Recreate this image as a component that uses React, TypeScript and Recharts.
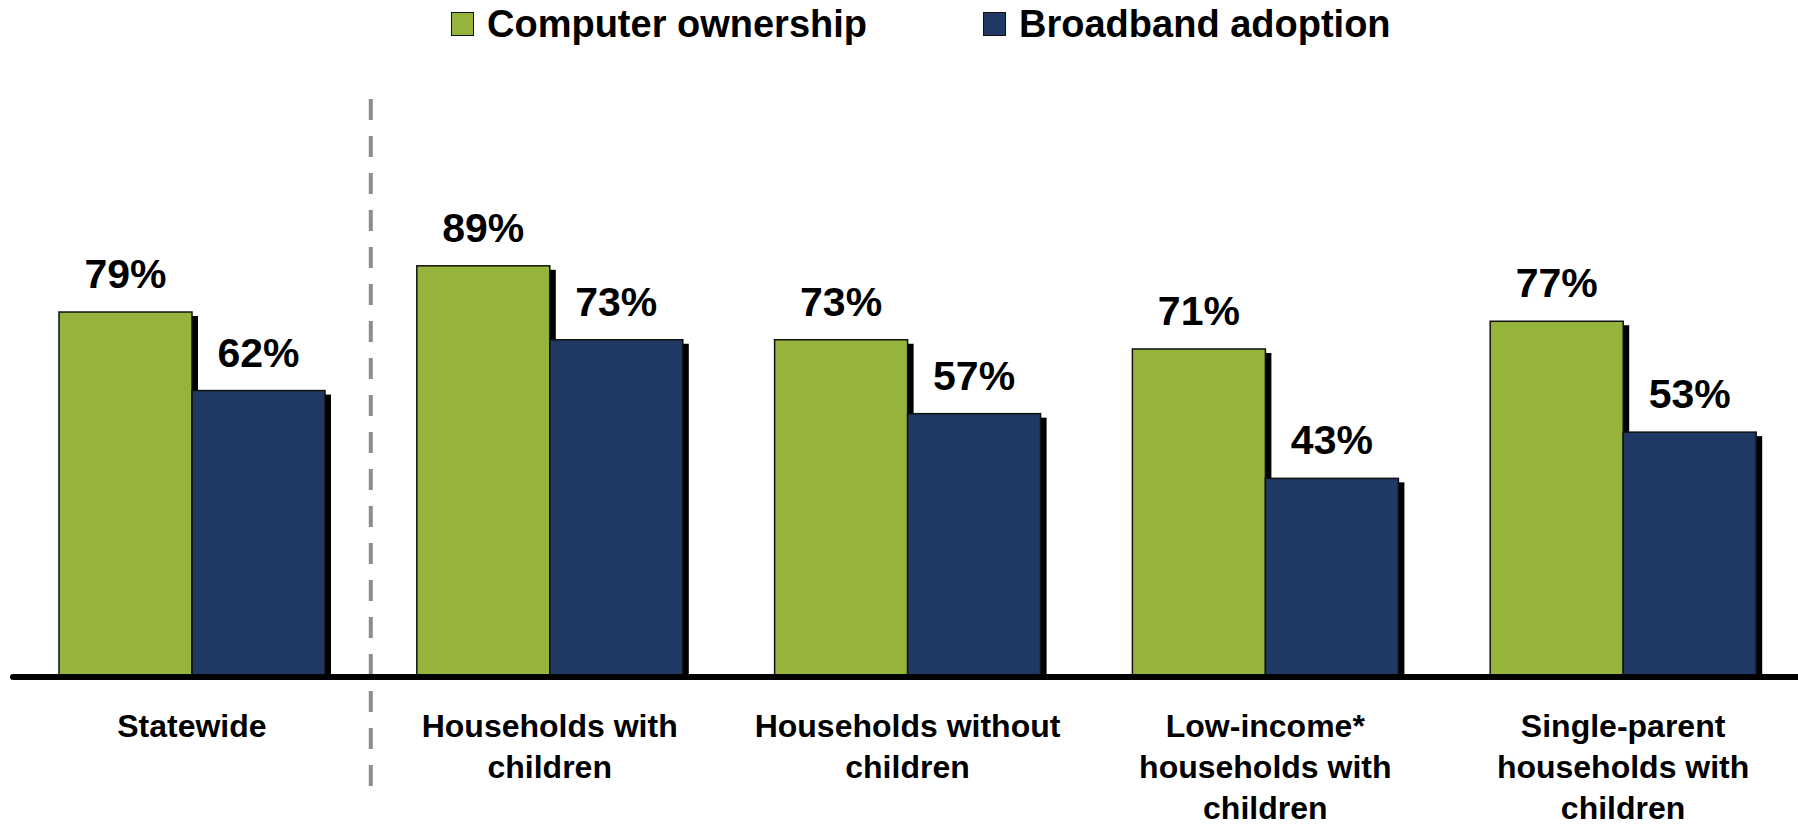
import React from "react";
import { BarChart, Bar, XAxis, YAxis, Legend, LabelList, ReferenceLine } from "recharts";

const categories = [
  "Statewide",
  "Households with children",
  "Households without children",
  "Low-income* households with children",
  "Single-parent households with children",
];
const tickLines = [
  ["Statewide"],
  ["Households with", "children"],
  ["Households without", "children"],
  ["Low-income*", "households with", "children"],
  ["Single-parent", "households with", "children"],
];
const computerOwnership = [79, 89, 73, 71, 77];
const broadbandAdoption = [62, 73, 57, 43, 53];
const seriesNames = ["Computer ownership", "Broadband adoption"];

const GREEN = "#96b43c";
const NAVY = "#1f3864";
const FONT = "'Liberation Sans', Arial, sans-serif";

const data = categories.map((c, i) => ({
  name: c,
  pos: i + 0.5,
  computer: computerOwnership[i],
  broadband: broadbandAdoption[i],
}));

const ShadowBar = (props: any) => {
  const { x, y, width, height, fill } = props;
  if (width == null || height == null) return null;
  return (
    <g>
      <rect x={x + 6} y={y + 4} width={width} height={Math.max(0, height - 4)} fill="#000" />
      <rect x={x} y={y} width={width} height={height} fill={fill} stroke="#111" strokeWidth={1.5} />
    </g>
  );
};

const ValueLabel = (props: any) => {
  const { x, y, width, value } = props;
  return (
    <text
      x={x + width / 2}
      y={y - 24}
      textAnchor="middle"
      fontFamily={FONT}
      fontWeight="bold"
      fontSize={41}
      fill="#000"
    >
      {value}%
    </text>
  );
};

const CategoryTick = (props: any) => {
  const { x, y, payload } = props;
  const lines = tickLines[payload.index] || [payload.value];
  return (
    <g>
      {lines.map((ln: string, i: number) => (
        <text
          key={i}
          x={x}
          y={y + 60 + i * 41}
          textAnchor="middle"
          fontFamily={FONT}
          fontWeight="bold"
          fontSize={32}
          fill="#000"
        >
          {ln}
        </text>
      ))}
    </g>
  );
};

const LegendContent = () => {
  const colors = [GREEN, NAVY];
  return (
    <div
      style={{
        height: 48,
        display: "flex",
        alignItems: "center",
        paddingLeft: 451,
        fontFamily: FONT,
        fontWeight: "bold",
        fontSize: 38,
        color: "#000",
        boxSizing: "border-box",
      }}
    >
      {seriesNames.map((n, i) => (
        <div key={n} style={{ display: "flex", alignItems: "center", marginRight: i === 0 ? 116 : 0 }}>
          <div
            style={{
              width: 21,
              height: 22,
              background: colors[i],
              border: "1.5px solid #111",
              marginRight: 13,
            }}
          />
          <span style={{ lineHeight: "48px", whiteSpace: "nowrap" }}>{n}</span>
        </div>
      ))}
    </div>
  );
};

export default function App() {
  return (
    <div
      style={{
        position: "absolute",
        left: 0,
        top: 0,
        width: 1798,
        height: 826,
        overflow: "hidden",
        background: "#fff",
      }}
    >
      <BarChart
        width={1802}
        height={826}
        data={data}
        margin={{ top: 167, right: 0, left: 13, bottom: 0 }}
        barGap={0}
        barSize={133}
      >
        <Legend
          verticalAlign="top"
          align="left"
          content={<LegendContent />}
          wrapperStyle={{ top: 0, left: 0, width: 1798, height: 48 }}
        />
        <XAxis
          dataKey="name"
          xAxisId="cat"
          interval={0}
          tickLine={false}
          tickSize={0}
          tickMargin={0}
          height={149}
          axisLine={{ stroke: "#000", strokeWidth: 6, strokeLinecap: "round" }}
          tick={<CategoryTick />}
        />
        <XAxis
          xAxisId="num"
          dataKey="pos"
          type="number"
          scale="linear"
          domain={[0, categories.length]}
          allowDataOverflow={true}
          padding={{ left: 0, right: 0 }}
          hide
        />
        <YAxis domain={[0, 100]} allowDataOverflow={true} hide />
        <ReferenceLine
          xAxisId="num"
          segment={[
            { x: 1, y: -23.6 },
            { x: 1, y: 125.2 },
          ]}
          ifOverflow="visible"
          stroke="#8c8c8c"
          strokeWidth={4}
          strokeDasharray="21 16"
        />
        <Bar
          xAxisId="cat"
          dataKey="computer"
          name={seriesNames[0]}
          fill={GREEN}
          shape={<ShadowBar />}
          isAnimationActive={false}
        >
          <LabelList dataKey="computer" content={<ValueLabel />} />
        </Bar>
        <Bar
          xAxisId="cat"
          dataKey="broadband"
          name={seriesNames[1]}
          fill={NAVY}
          shape={<ShadowBar />}
          isAnimationActive={false}
        >
          <LabelList dataKey="broadband" content={<ValueLabel />} />
        </Bar>
      </BarChart>
    </div>
  );
}
